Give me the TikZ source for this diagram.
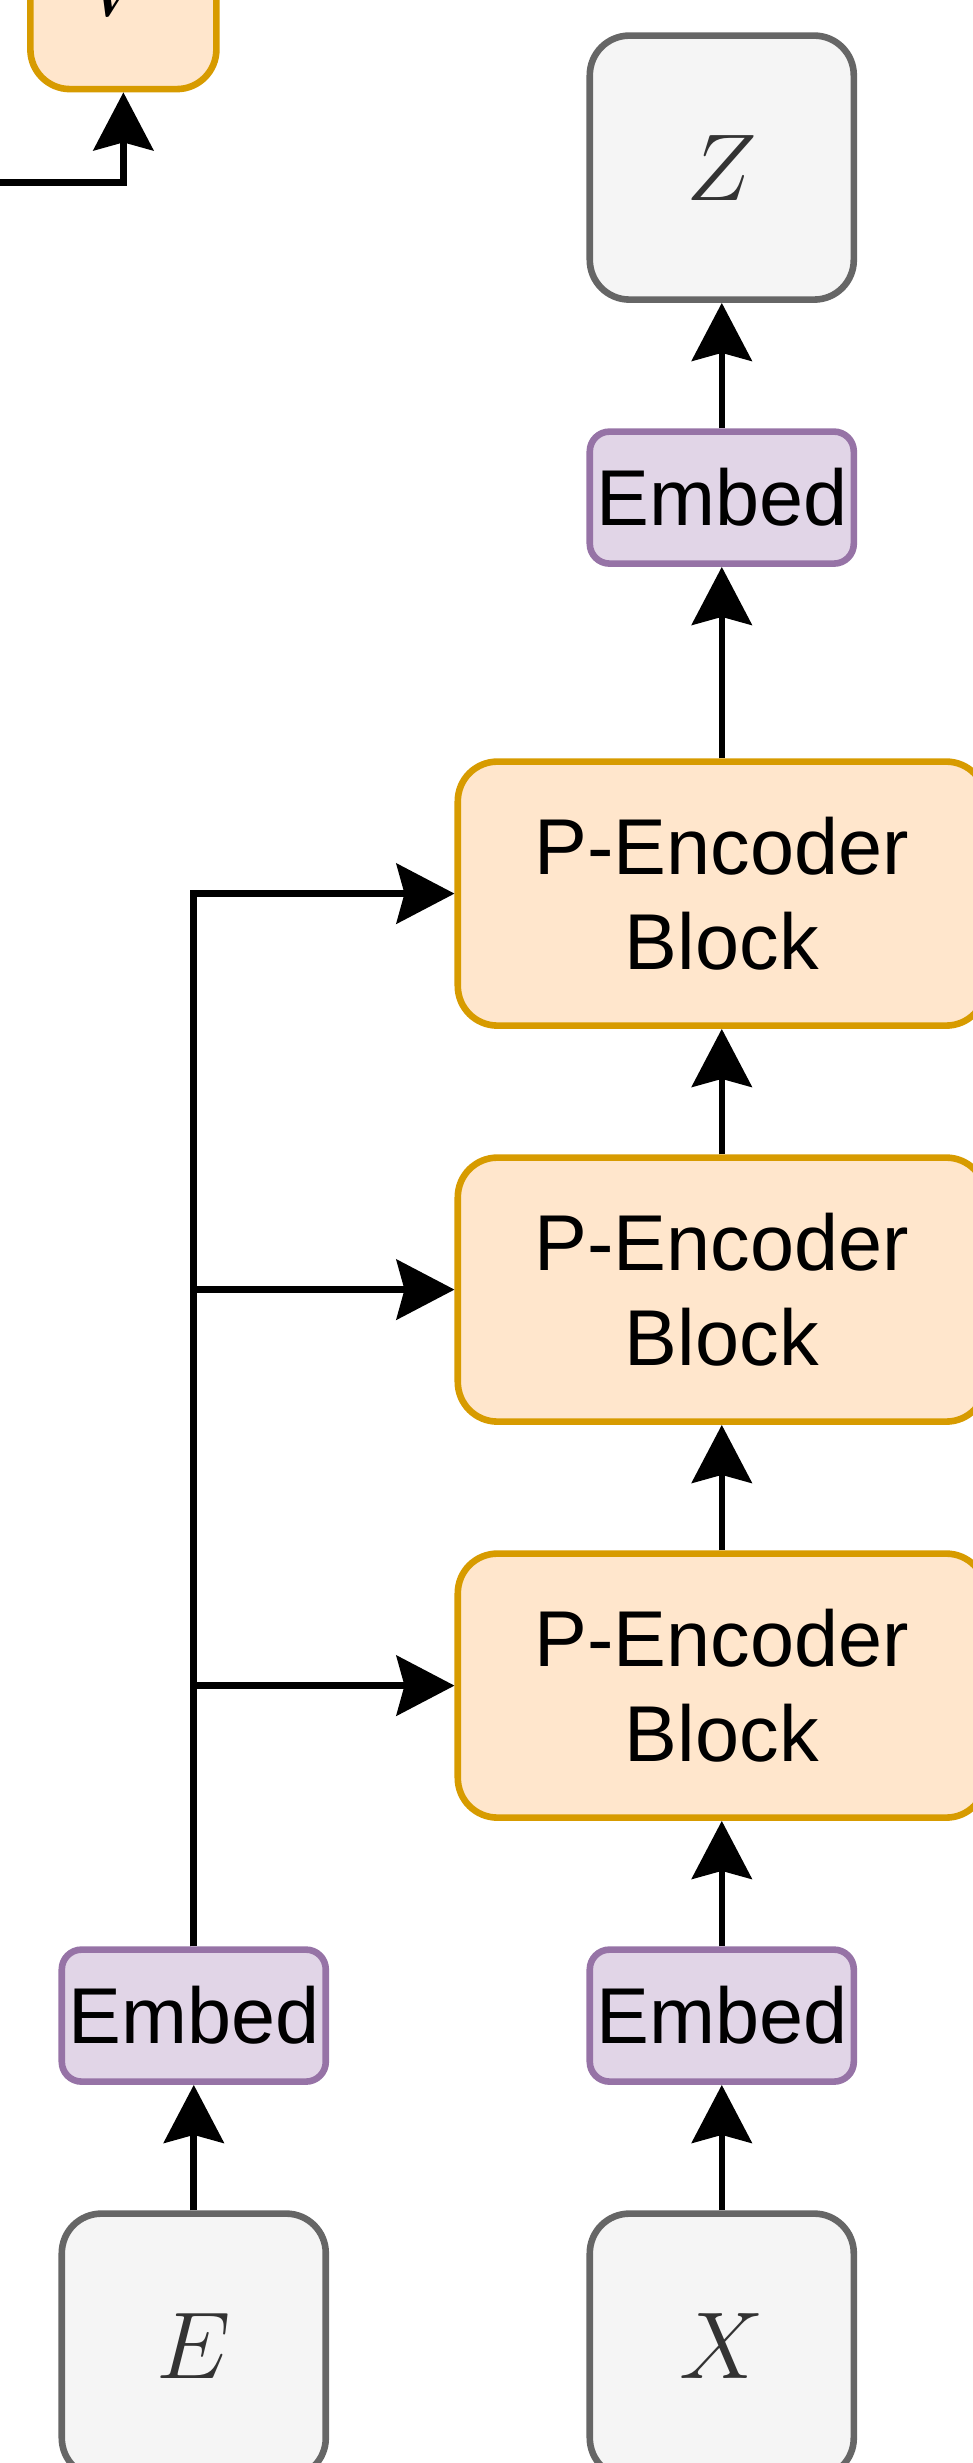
\RequirePackage{fix-cm}
\documentclass[tikz,border=0pt]{standalone}
\usepackage{fontspec}
\setmainfont{Liberation Sans}
\usetikzlibrary{positioning, arrows.meta}
\definecolor{encfill}{HTML}{FFE6CC}
\definecolor{encdraw}{HTML}{D79B00}
\definecolor{embfill}{HTML}{E1D5E7}
\definecolor{embdraw}{HTML}{9673A6}
\definecolor{datafill}{HTML}{F5F5F5}
\definecolor{datadraw}{HTML}{666666}
\definecolor{datatext}{HTML}{333333}

\begin{document}
\begin{tikzpicture}[
  font=\fontsize{39.6}{47.5}\selectfont,
  >={Stealth[length=29pt, width=30pt, inset=4pt]},
  line width=3.3pt,
  encblock/.style={draw=encdraw, fill=encfill, rounded corners=19.8pt, minimum width=264pt, minimum height=132pt, align=center, inner sep=0pt},
  embbox/.style={draw=embdraw, fill=embfill, rounded corners=9.9pt, minimum width=132pt, minimum height=66pt, inner sep=0pt},
  databox/.style={draw=datadraw, fill=datafill, text=datatext, rounded corners=19.8pt, minimum width=132pt, minimum height=132pt, inner sep=0pt, font=\fontsize{47.5}{57}\selectfont},
  arr/.style={->}
]
\useasboundingbox (-360.9pt,-1147.7pt) rectangle (125.6pt,83.8pt);
\node[databox] (z) {$Z$};
\node[embbox, below=62.7pt of z] (embz) {Embed};
\node[encblock, below=95.7pt of embz] (pe1) {P-Encoder\\Block};
\node[encblock, below=62.7pt of pe1] (pe2) {P-Encoder\\Block};
\node[encblock, below=62.7pt of pe2] (pe3) {P-Encoder\\Block};
\node[embbox, below=62.7pt of pe3] (embx) {Embed};
\node[databox, below=62.7pt of embx] (x) {$X$};
\node[embbox, left=128.7pt of embx] (embe) {Embed};
\node[databox, below=62.7pt of embe] (e) {$E$};
\node[encblock, minimum width=93pt, minimum height=106pt, anchor=south, font=\fontsize{47.5}{57}\selectfont] (out) at (-299.2pt,37.6pt) {$V$};
\coordinate (inl) at (-360.9pt,-7.4pt);
\draw[arr] (inl) -| (out);
\draw[arr] (embz) -- (z);
\draw[arr] (pe1) -- (embz);
\draw[arr] (pe2) -- (pe1);
\draw[arr] (pe3) -- (pe2);
\draw[arr] (embx) -- (pe3);
\draw[arr] (x) -- (embx);
\draw[arr] (e) -- (embe);
\draw[arr] (embe) |- (pe1);
\draw[arr] (embe) |- (pe2);
\draw[arr] (embe) |- (pe3);
\end{tikzpicture}
\end{document}
